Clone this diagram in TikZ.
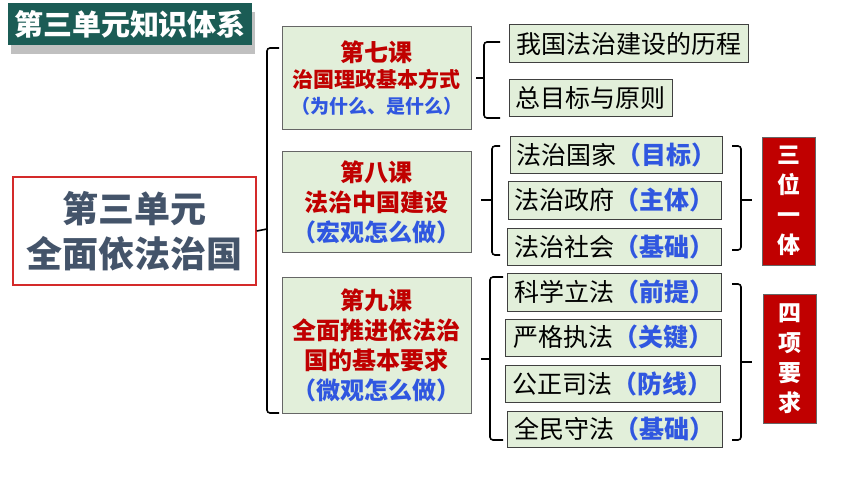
\documentclass[tikz,border=0pt]{standalone}
\usepackage{fontspec}
\setmainfont{Noto Sans CJK SC}
\usetikzlibrary{shadows}
\definecolor{titlegreen}{HTML}{1B5C55}
\definecolor{boxgreen}{HTML}{E2EFDA}
\definecolor{lessonred}{HTML}{C00000}
\definecolor{noteblue}{HTML}{3057E0}
\definecolor{unitgray}{HTML}{44546A}
\definecolor{framered}{HTML}{D42A2A}
\begin{document}
\begin{tikzpicture}[x=1pt,y=-1pt,
        every node/.style={inner sep=0pt},
        lesson/.style={draw=gray!80!black,fill=boxgreen,line width=1pt,minimum width=189pt,align=center,font=\bfseries\fontsize{24}{30}\selectfont},
        point/.style={draw=black!75,fill=boxgreen,line width=1pt,minimum height=37pt,font=\fontsize{25}{28}\selectfont},
        summary/.style={draw=black!60,fill=lessonred,text=white,minimum width=53pt,align=center,font=\bfseries\fontsize{23}{30}\selectfont},
        brace/.style={line width=1.6pt,rounded corners=3pt}]
        \useasboundingbox (0,0) rectangle (860,484);
        \node [fill=titlegreen,text=white,minimum width=244pt,minimum height=42pt,font=\bfseries\fontsize{29}{30}\selectfont,drop shadow={shadow xshift=3pt,shadow yshift=-9pt,opacity=0.45,fill=black!55}] (title) at (130,24) {第三单元知识体系};
        \node [draw=framered,line width=1.5pt,fill=white,minimum width=243pt,minimum height=108pt,align=center,text=unitgray,font=\bfseries\fontsize{36}{45}\selectfont] (unit) at (134.5,231) {第三单元\\全面依法治国};

        \node [lesson,minimum height=103pt,font=\bfseries\fontsize{21}{26}\selectfont] (l7) at (376.5,78.5) {\textcolor{lessonred}{\fontsize{24}{26}\selectfont 第七课}\\\textcolor{lessonred}{治国理政基本方式}\\\textcolor{noteblue}{\fontsize{19}{26}\selectfont（为什么、是什么）}};
        \node [lesson,minimum height=100pt] (l8) at (376.5,202) {\textcolor{lessonred}{第八课}\\\textcolor{lessonred}{法治中国建设}\\\textcolor{noteblue}{（宏观怎么做）}};
        \node [lesson,minimum height=136pt] (l9) at (376.5,345) {\textcolor{lessonred}{第九课}\\\textcolor{lessonred}{全面推进依法治}\\\textcolor{lessonred}{国的基本要求}\\\textcolor{noteblue}{（微观怎么做）}};

        \node [point,minimum width=239pt,minimum height=38pt] (a1) at (628.5,44) {我国法治建设的历程};
        \node [point,minimum width=163pt] (a2) at (590.5,98.5) {总目标与原则};

        \node [point,minimum width=212pt] (b1) at (616,155.5) {法治国家\textcolor{noteblue}{\bfseries（目标）}};
        \node [point,minimum width=213pt] (b2) at (614.5,200.5) {法治政府\textcolor{noteblue}{\bfseries（主体）}};
        \node [point,minimum width=214pt] (b3) at (614,246.5) {法治社会\textcolor{noteblue}{\bfseries（基础）}};

        \node [point,minimum width=214pt,minimum height=38pt] (c1) at (614,292) {科学立法\textcolor{noteblue}{\bfseries（前提）}};
        \node [point,minimum width=216pt] (c2) at (613,337.5) {严格执法\textcolor{noteblue}{\bfseries（关键）}};
        \node [point,minimum width=215pt] (c3) at (612.5,383.5) {公正司法\textcolor{noteblue}{\bfseries（防线）}};
        \node [point,minimum width=215pt,minimum height=36pt] (c4) at (614.5,429) {全民守法\textcolor{noteblue}{\bfseries（基础）}};

        \node [summary,minimum height=128pt] (s3) at (788.5,201) {三\\位\\一\\体};
        \node [summary,minimum height=129pt] (s4) at (790,358.5) {四\\项\\要\\求};

        \draw [brace] (279,48) -- (267,48) -- (267,413) -- (279,413);
        \draw [brace] (unit.east) -- (267,229);

        \draw [brace] (500,42) -- (484,42) -- (484,118) -- (500,118);
        \draw [brace] (484,78) -- (476,78);

        \draw [brace] (500,146) -- (492,146) -- (492,255) -- (500,255);
        \draw [brace] (492,200) -- (481,200);
        \draw [brace] (732,146) -- (741,146) -- (741,250) -- (732,250);
        \draw [brace] (741,200) -- (752,200);

        \draw [brace] (503,277) -- (490,277) -- (490,440) -- (503,440);
        \draw [brace] (490,359) -- (481,359);
        \draw [brace] (732,284) -- (741,284) -- (741,440) -- (732,440);
        \draw [brace] (741,362) -- (752,362);
\end{tikzpicture}
\end{document}
